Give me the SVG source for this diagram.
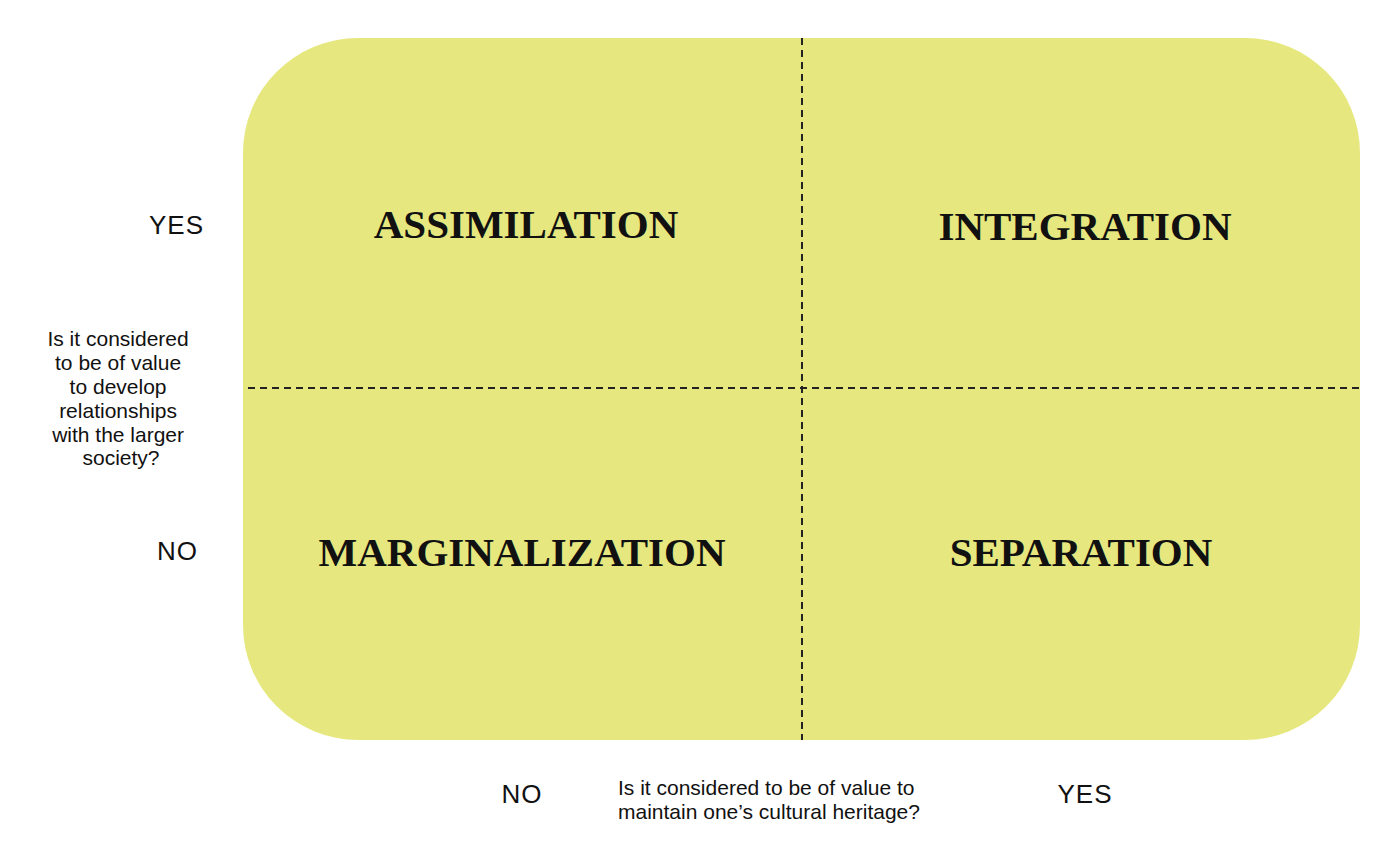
<svg xmlns="http://www.w3.org/2000/svg" width="1400" height="849" viewBox="0 0 1400 849">
<style>
.q{font-family:"Liberation Serif",serif;font-weight:bold;font-size:41px;fill:#111;text-anchor:middle}
.a{font-family:"Liberation Sans",sans-serif;font-size:26px;fill:#111;letter-spacing:1px}
.s{font-family:"Liberation Sans",sans-serif;font-size:21px;fill:#111}
.d{stroke:#222;stroke-width:2;stroke-dasharray:7 5;fill:none}
</style>
<rect width="1400" height="849" fill="#fff"/>
<g id="board"><rect x="243" y="38" width="1117" height="702" rx="115" fill="#e6e87f"/></g>
<g id="connectors">
<line class="d" x1="802" y1="38" x2="802" y2="740"/>
<line class="d" x1="248" y1="388" x2="1360" y2="388"/>
</g>
<g id="assimilation"><text class="q" x="526" y="238">ASSIMILATION</text></g>
<g id="integration"><text class="q" x="1085" y="240">INTEGRATION</text></g>
<g id="marginalization"><text class="q" x="522" y="566">MARGINALIZATION</text></g>
<g id="separation"><text class="q" x="1081" y="566">SEPARATION</text></g>
<g id="yaxis">
<text class="a" x="204" y="234" text-anchor="end">YES</text>
<text class="a" x="198" y="560" text-anchor="end">NO</text>
<text class="s" text-anchor="middle">
<tspan x="121" y="346">Is it considered</tspan>
<tspan x="121" y="370">to be of value</tspan>
<tspan x="121" y="394">to develop</tspan>
<tspan x="121" y="418">relationships</tspan>
<tspan x="121" y="442">with the larger</tspan>
<tspan x="121" y="465">society?</tspan>
</text>
</g>
<g id="xaxis">
<text class="a" x="522" y="803" text-anchor="middle">NO</text>
<text class="a" x="1085" y="803" text-anchor="middle">YES</text>
<text class="s"><tspan x="618" y="795">Is it considered to be of value to</tspan><tspan x="618" y="819">maintain one’s cultural heritage?</tspan></text>
</g>
</svg>
